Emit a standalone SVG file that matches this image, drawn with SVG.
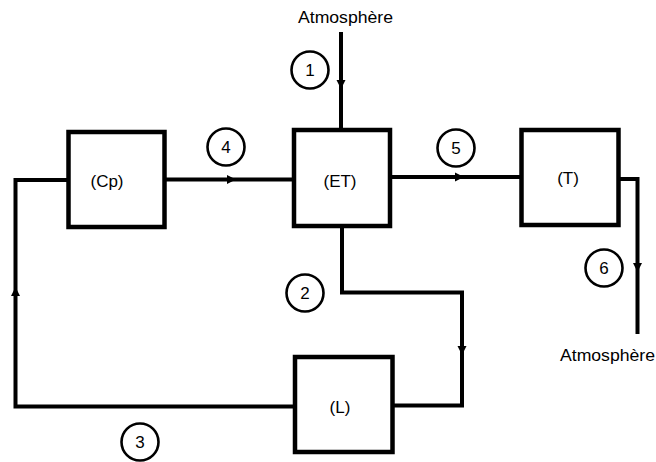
<svg xmlns="http://www.w3.org/2000/svg" xmlns:xlink="http://www.w3.org/1999/xlink" width="656" height="462" viewBox="0 0 656 462">
<style>
.box{fill:#fff;stroke:#000;stroke-width:4.5}
.ln{fill:none;stroke:#000;stroke-width:4;stroke-linejoin:miter;stroke-linecap:square}
.circ{fill:#fff;stroke:#000;stroke-width:2.6}
.lbl{font-family:"Liberation Sans",Arial,sans-serif;font-size:17px;fill:#000;text-anchor:middle}
.num{font-family:"Liberation Sans",Arial,sans-serif;font-size:17px;fill:#000;text-anchor:middle}
.atm{font-family:"Liberation Sans",Arial,sans-serif;font-size:16px;fill:#000}
</style>
<defs>
<path id="ah" d="M5,0 L-4,-4.5 L-4,4.5 Z" fill="#000"/>
</defs>
<rect width="656" height="462" fill="#fff"/>
<g id="connectors">
<path class="ln" d="M341,34 V130"/>
<path class="ln" d="M165,179.5 H294"/>
<path class="ln" d="M390,177 H521"/>
<path class="ln" d="M618,179 H637.5 V332"/>
<path class="ln" d="M342,226 V292.5 H462 V405.5 H392"/>
<path class="ln" d="M295,406.5 H15.5 V180 H68"/>
<use xlink:href="#ah" transform="translate(341,84) rotate(90)"/>
<use xlink:href="#ah" transform="translate(231,179.5)"/>
<use xlink:href="#ah" transform="translate(459,177)"/>
<use xlink:href="#ah" transform="translate(637.5,267) rotate(90)"/>
<use xlink:href="#ah" transform="translate(462,350) rotate(90)"/>
<use xlink:href="#ah" transform="translate(15.5,292) rotate(-90)"/>
</g>
<g id="Cp"><rect class="box" x="68.5" y="132" width="96" height="95"/><text class="lbl" x="107" y="187">(Cp)</text></g>
<g id="ET"><rect class="box" x="294" y="130" width="96" height="96"/><text class="lbl" x="340" y="187">(ET)</text></g>
<g id="T"><rect class="box" x="521.5" y="130" width="97" height="95"/><text class="lbl" x="568" y="184">(T)</text></g>
<g id="L"><rect class="box" x="295" y="357" width="97.5" height="95"/><text class="lbl" x="340" y="413">(L)</text></g>
<g id="atm-in"><text class="atm" x="298" y="23" textLength="95" lengthAdjust="spacingAndGlyphs">Atmosphère</text></g>
<g id="atm-out"><text class="atm" x="560" y="361" textLength="95" lengthAdjust="spacingAndGlyphs">Atmosphère</text></g>
<g id="s1"><circle class="circ" cx="310" cy="70" r="18.5"/><text class="num" x="310" y="76">1</text></g>
<g id="s2"><circle class="circ" cx="305" cy="293" r="18.5"/><text class="num" x="305" y="299">2</text></g>
<g id="s3"><circle class="circ" cx="140" cy="442" r="18.5"/><text class="num" x="140" y="448">3</text></g>
<g id="s4"><circle class="circ" cx="226" cy="147" r="18.5"/><text class="num" x="226" y="153">4</text></g>
<g id="s5"><circle class="circ" cx="456" cy="148" r="18.5"/><text class="num" x="456" y="154">5</text></g>
<g id="s6"><circle class="circ" cx="604" cy="268" r="18.5"/><text class="num" x="604" y="274">6</text></g>
</svg>
